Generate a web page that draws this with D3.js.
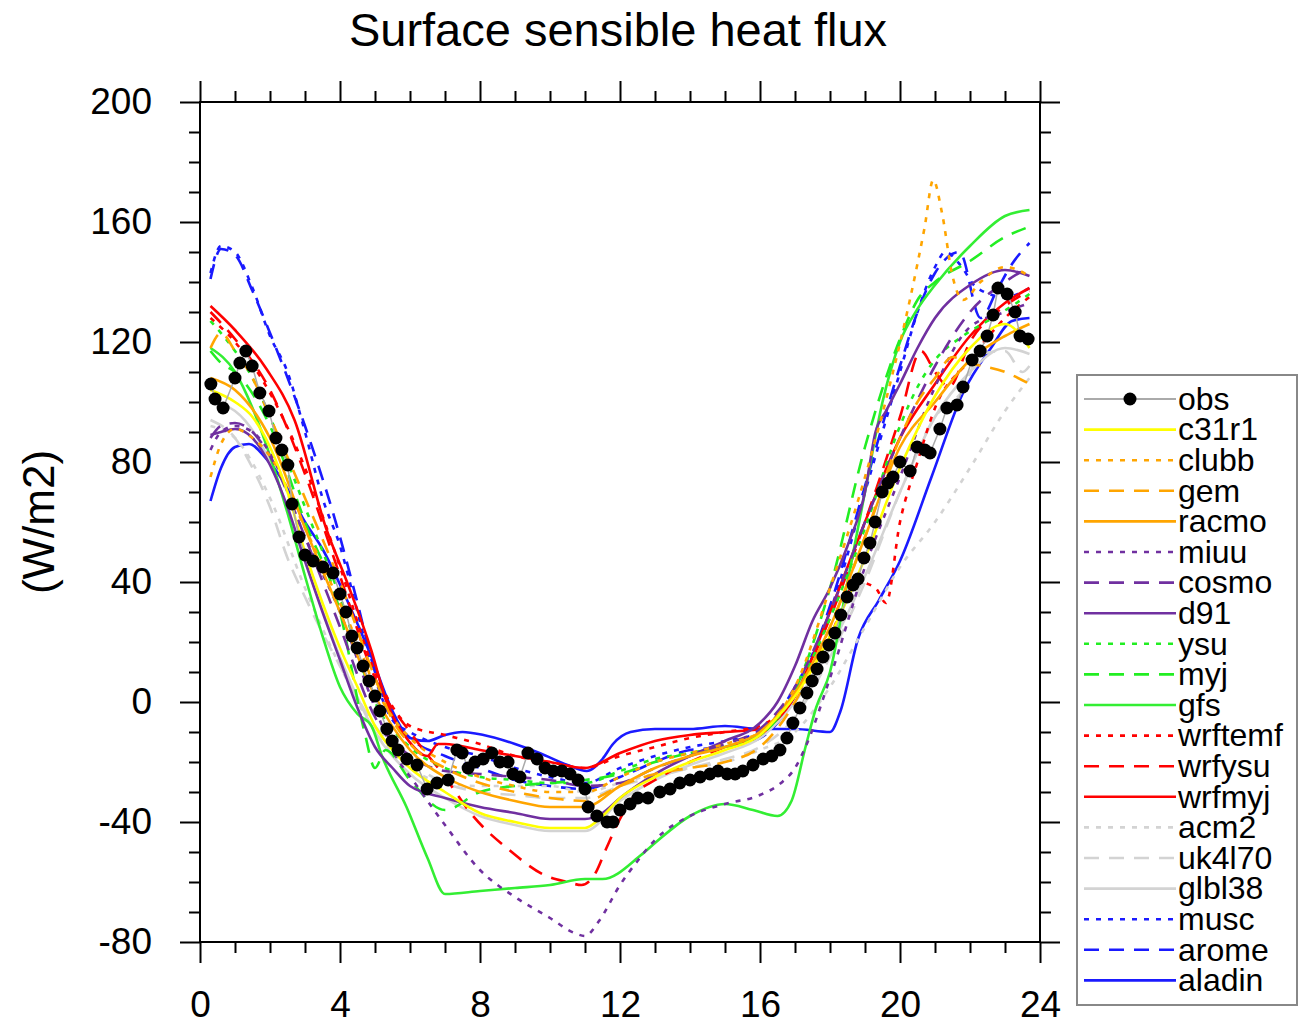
<!DOCTYPE html>
<html>
<head>
<meta charset="utf-8">
<title>Surface sensible heat flux</title>
<script src="https://cdn.jsdelivr.net/npm/d3@7"></script>
<style>
  body { margin: 0; background: #fff; }
  svg { font-family: "Liberation Sans", Arial, sans-serif; }
</style>
</head>
<body>
<svg width="1298" height="1026"></svg>
<script>

// axis ticks
const hourTicks = [0, 4, 8, 12, 16, 20, 24];
const fluxTicks = [-80, -40, 0, 40, 80, 120, 160, 200];

// observations (hour, W/m2)
const obsT = [0.31,0.43,0.66,1.0,1.14,1.31,1.49,1.71,1.97,2.17,2.34,2.51,2.63,2.83,3.0,3.23,3.51,3.8,4.0,4.17,
  4.34,4.49,4.66,4.83,5.0,5.14,5.34,5.49,5.66,5.91,6.2,6.49,6.77,7.09,7.34,7.49,7.66,7.86,8.09,8.34,
  8.57,8.8,8.94,9.14,9.37,9.63,9.86,10.09,10.34,10.57,10.8,11.0,11.09,11.34,11.63,11.8,12.0,12.29,12.51,12.8,
  13.14,13.43,13.71,14.0,14.29,14.57,14.8,15.06,15.29,15.51,15.8,16.09,16.34,16.57,16.77,16.94,17.14,17.34,17.49,17.63,
  17.8,17.97,18.14,18.31,18.49,18.66,18.8,18.97,19.14,19.29,19.49,19.66,19.8,20.0,20.29,20.49,20.71,20.86,21.14,21.34,
  21.63,21.8,22.06,22.29,22.49,22.66,22.8,23.06,23.29,23.43,23.66];
const obsV = [106,101,98,108,113,117,112,103,97,88,84,79,66,55,49,47,45,43,36,30,
  22,18,12,7,2,-3,-9,-13,-16,-19,-21,-29,-27,-26,-16,-17,-22,-20,-19,-17,
  -20,-20,-24,-25,-17,-19,-22,-23,-23,-24,-26,-29,-35,-38,-40,-40,-36,-34,-32,-32,
  -30,-29,-27,-26,-25,-24,-23,-24,-24,-23,-21,-19,-18,-16,-12,-7,-2,3,7,11,
  15,19,23,29,35,39,41,48,53,60,70,73,75,80,77,85,84,83,91,98,
  99,105,114,117,122,129,138,136,130,122,121];

// model runs, [hour, W/m2]
const c31r1 = [[0.3,104],[1,100],[1.5,95],[2,85],[2.5,70],[3,50],[3.5,33],[4,18],[4.5,5],[5,-8],[5.5,-16],[6,-22],[7,-30],[8,-37],[9,-40],[10,-42],[11,-42],[11.5,-38],[12,-32],[13,-25],[14,-20],[15,-16],[16,-11],[16.5,-5],[17,2],[18,22],[19,48],[20,78],[21,102],[22,118],[23,126],[23.7,118]];
const clubb = [[0.3,75],[0.6,86],[1,91],[1.5,88],[2,82],[3,58],[4,33],[4.5,20],[5,5],[5.5,-5],[6,-12],[7,-20],[8,-25],[9,-28],[10,-30],[11,-30],[12,-25],[13,-20],[14,-17],[15,-14],[16,-10],[17,5],[18,38],[19,75],[19.8,110],[20.3,135],[20.7,158],[20.95,174],[21.2,163],[21.5,142],[21.8,134],[22.3,140],[23,145],[23.7,142]];
const gem = [[0.3,118],[0.6,123],[1,117],[1.5,108],[2,95],[3,68],[4,40],[5,8],[5.5,-6],[6,-14],[7,-22],[8,-27],[9,-30],[10,-32],[11,-33],[12,-28],[13,-24],[14,-22],[15,-20],[16,-15],[17,0],[18,25],[19,55],[20,88],[20.5,100],[21,108],[21.5,115],[22,113],[23,110],[23.7,106]];
const racmo = [[0.3,108],[1,104],[2,88],[3,58],[4,30],[5,2],[6,-16],[7,-25],[8,-30],[9,-33],[10,-35],[11,-35],[12,-28],[13,-22],[14,-18],[15,-15],[16,-10],[17,3],[18,25],[19,55],[20,85],[21,100],[22,114],[23,122],[23.7,126]];
const miuu = [[0.3,84],[0.6,90],[1,92],[1.5,90],[2,83],[3,55],[4,30],[5,-2],[5.5,-16],[6.2,-28],[7,-41],[8,-56],[9,-65],[10,-72],[10.7,-77],[11,-78],[11.4,-73],[12,-61],[12.5,-53],[13,-46],[14,-38],[15,-34],[16,-31],[16.6,-27],[17,-22],[17.3,-15],[18,8],[19,45],[20,75],[21,105],[22,125],[23,130],[23.7,133]];
const cosmo = [[0.3,88],[0.6,92],[1,93],[1.5,90],[2,82],[3,55],[4,25],[5,-5],[6,-18],[7,-23],[8,-24],[9,-25],[10,-26],[11,-28],[12,-27],[13,-22],[14,-18],[15,-14],[16,-9],[17,5],[18,30],[19,60],[20,88],[21,112],[22,130],[23,140],[23.7,145]];
const d91 = [[0.3,89],[0.6,90],[1,91],[1.5,88],[2,79],[2.5,65],[3,47],[3.5,30],[4,14],[4.5,-2],[5,-15],[5.5,-22],[6,-28],[7,-32],[8,-35],[9,-37],[10,-39],[11,-39],[11.5,-37],[12,-32],[13,-24],[14,-18],[15,-13],[16,-7],[16.5,0],[17,12],[17.5,27],[18,38],[18.5,52],[19,70],[19.3,90],[19.6,97],[20,106],[20.5,118],[21,128],[22,139],[23,144],[23.7,142]];
const ysu = [[0.3,127],[1,117],[1.5,108],[2,95],[3,65],[4,35],[5,0],[6,-15],[7,-22],[8,-25],[9,-26],[10,-27],[11,-27],[12,-23],[13,-19],[14,-17],[15,-15],[16,-11],[17,3],[18,28],[19,58],[20,92],[20.5,105],[21,114],[21.8,122],[22.5,127],[23.2,132],[23.7,136]];
const myj = [[0.3,117],[0.6,113],[1,110],[2,92],[3,60],[4,30],[4.7,-10],[5,-22],[5.3,-16],[6,-26],[7,-36],[8,-30],[9,-28],[10,-27],[11,-26],[12,-24],[13,-20],[14,-17],[15,-15],[16,-11],[17,4],[18,38],[19,85],[20,121],[20.5,134],[21,140],[22,147],[23,155],[23.6,158]];
const gfs = [[0.3,118],[1,110],[1.5,98],[2,82],[2.5,63],[3,42],[3.5,22],[4,5],[4.5,-4],[4.9,-8],[5.2,-18],[5.9,-35],[6.5,-52],[7,-64],[8,-63],[9,-62],[10,-61],[11,-59],[11.5,-59],[12.6,-51],[13,-47],[14,-38],[15,-34],[15.8,-36],[16.5,-38],[16.9,-33],[17.3,-15],[17.6,-2],[18,10],[18.5,40],[19,70],[19.5,100],[20,120],[20.5,131],[21,139],[22,152],[23,162],[23.7,164]];
const wrftemf = [[0.3,128],[1,120],[2,103],[3,78],[4,45],[5,10],[6,-8],[7,-11],[8,-14],[9,-18],[10,-20],[11,-22],[12,-18],[13,-15],[14,-12],[15,-10],[16,-8],[17,2],[18,22],[18.8,40],[19.3,38],[19.6,33],[20,60],[20.5,80],[21,98],[22,114],[23,128],[23.7,135]];
const wrfysu = [[0.3,130],[1,121],[2,104],[3,76],[4,42],[5,8],[6,-10],[7,-25],[7.8,-38],[8.8,-49],[9.9,-58],[10.5,-60],[10.9,-61],[11.3,-57],[11.6,-49],[12,-39],[12.5,-30],[13,-26],[14,-20],[15,-15],[16,-11],[17,3],[18,28],[19,60],[20,95],[20.6,117],[21,110],[21.4,105],[22,120],[23,132],[23.7,137]];
const wrfmyj = [[0.3,132],[1,124],[1.9,111],[2.7,94],[3.6,58],[4.2,40],[4.9,17],[5.3,1],[5.9,-12],[6.5,-18],[6.8,-14],[7,-14],[8,-16],[9,-18],[10,-20],[11,-22],[12,-17],[13,-13],[14,-11],[15,-10],[16,-9],[17,2],[18,30],[19,60],[20,88],[21,106],[22,122],[23,133],[23.7,138]];
const acm2 = [[0.3,92],[1,88],[2,68],[3,38],[4,12],[5,-10],[6,-22],[7,-27],[8,-28],[9,-28],[10,-28],[11,-30],[12,-27],[13,-24],[14,-22],[15,-20],[16,-16],[17,-10],[18,5],[19,25],[20,45],[21,60],[22,78],[23,97],[23.7,108]];
const uk4l70 = [[0.3,94],[1,88],[1.5,78],[2,65],[2.5,48],[3,35],[4,12],[5,-8],[6,-20],[7,-27],[8,-30],[9,-31],[10,-32],[11,-32],[12,-28],[13,-25],[14,-22],[15,-19],[16,-15],[17,-5],[18,15],[19,40],[20,70],[21,95],[21.8,104],[22.3,116],[23,117],[23.5,110],[23.7,112]];
const glbl38 = [[0.3,100],[1,97],[2,80],[3,47],[4,15],[5,-10],[6,-24],[7,-32],[8,-38],[9,-41],[10,-43],[11,-43],[12,-33],[13,-26],[14,-21],[15,-17],[16,-12],[17,0],[18,18],[19,42],[20,70],[21,95],[22,110],[23,118],[23.7,116]];
const musc = [[0.3,143],[0.6,152],[1,150],[1.5,138],[2,122],[2.5,110],[3,90],[3.5,68],[4,52],[4.5,30],[5,8],[5.5,-6],[6,-10],[7,-15],[8,-18],[9,-22],[10,-25],[11,-27],[12,-22],[13,-18],[14,-15],[15,-13],[16,-10],[17,5],[18,30],[19,70],[20,110],[20.5,130],[21,145],[21.3,150],[21.7,146],[22.2,138],[23,135],[23.7,138]];
const arome = [[0.3,141],[0.6,151],[1,149],[1.5,137],[2,123],[3,92],[4,55],[4.5,33],[5,10],[5.5,-5],[6,-12],[7,-18],[8,-22],[9,-26],[10,-28],[11,-29],[12,-25],[13,-20],[14,-16],[15,-15],[16,-12],[17,2],[18,32],[19,72],[20,112],[20.5,130],[21,143],[21.7,150],[22.3,128],[22.8,138],[23.2,146],[23.7,153]];
const aladin = [[0.3,67],[0.6,78],[1,85],[1.4,86],[1.9,81],[2.3,75],[3,60],[3.5,51],[4.2,34],[4.9,15],[5.5,-3],[6,-12],[6.5,-13],[7,-11],[7.5,-10],[8.1,-11],[9,-14],[9.7,-17],[10.5,-21],[11.05,-23],[11.5,-19],[11.8,-14],[12.3,-10],[13,-9],[14,-9],[15,-8],[16,-9],[17,-9],[18,-10],[18.3,-3],[18.8,21],[19.4,34],[20,47],[20.9,75],[21.8,103],[22.6,118],[23.2,127],[23.7,128]];

// styles for each run
const DOT = '5,7', DASH = '15,10';
const runs = [
  { name: 'c31r1',   pts: c31r1,   color: '#ffff00', dash: null },
  { name: 'clubb',   pts: clubb,   color: '#ffa500', dash: DOT },
  { name: 'gem',     pts: gem,     color: '#ffa500', dash: DASH },
  { name: 'racmo',   pts: racmo,   color: '#ffa500', dash: null },
  { name: 'miuu',    pts: miuu,    color: '#7030a0', dash: DOT },
  { name: 'cosmo',   pts: cosmo,   color: '#7030a0', dash: DASH },
  { name: 'd91',     pts: d91,     color: '#7030a0', dash: null },
  { name: 'ysu',     pts: ysu,     color: '#22ee22', dash: DOT },
  { name: 'myj',     pts: myj,     color: '#22ee22', dash: DASH },
  { name: 'gfs',     pts: gfs,     color: '#33ee33', dash: null },
  { name: 'wrftemf', pts: wrftemf, color: '#ff0000', dash: DOT },
  { name: 'wrfysu',  pts: wrfysu,  color: '#ff0000', dash: DASH },
  { name: 'wrfmyj',  pts: wrfmyj,  color: '#ff0000', dash: null },
  { name: 'acm2',    pts: acm2,    color: '#d3d3d3', dash: DOT },
  { name: 'uk4l70',  pts: uk4l70,  color: '#d3d3d3', dash: DASH },
  { name: 'glbl38',  pts: glbl38,  color: '#d3d3d3', dash: null },
  { name: 'musc',    pts: musc,    color: '#1a1aff', dash: DOT },
  { name: 'arome',   pts: arome,   color: '#1a1aff', dash: DASH },
  { name: 'aladin',  pts: aladin,  color: '#1a1aff', dash: null }
];

const L = 200, R = 1040, T = 102, B = 942;
const svg = d3.select('svg');

const x = d3.scaleLinear().domain([0, 24]).range([L, R]);
const y = d3.scaleLinear().domain([-80, 200]).range([B, T]);

svg.append('defs').append('clipPath').attr('id', 'plot')
  .append('rect').attr('x', L).attr('y', T).attr('width', R - L).attr('height', B - T);

let line = d3.line().x(d => x(d[0])).y(d => y(d[1])).curve(d3.curveMonotoneX);

let g = svg.append('g').attr('clip-path', 'url(#plot)');

// last run in the legend drawn first
runs.slice().reverse().forEach(r => {
  g.append('path')
    .datum(r.pts)
    .attr('d', line)
    .attr('fill', 'none')
    .attr('stroke', r.color)
    .attr('stroke-width', 2.6)
    .attr('stroke-dasharray', r.dash);
});

// obs on top
let obs = obsT.map((t, i) => [t, obsV[i]]);
g.append('path')
  .datum(obs)
  .attr('d', d3.line().x(d => x(d[0])).y(d => y(d[1])))
  .attr('fill', 'none')
  .attr('stroke', '#aaa')
  .attr('stroke-width', 1.5);
g.selectAll('circle.obs').data(obs).enter().append('circle')
  .attr('class', 'obs')
  .attr('cx', d => x(d[0]))
  .attr('cy', d => y(d[1]))
  .attr('r', 6.5)
  .attr('fill', '#000');

// frame + ticks (outward on all sides)
let styleAxis = (a, labels) => {
  a.select('.domain').remove();
  a.selectAll('line').attr('stroke', '#000').attr('stroke-width', 2);
  if (!labels) a.selectAll('text').remove();
  else a.selectAll('text').attr('font-size', 37).attr('fill', '#000');
};

let plain = d => String(d);   // ascii hyphen for negatives
let minorX = d3.range(0, 25, 1).filter(v => v % 4 !== 0);
let minorY = d3.range(-80, 201, 10).filter(v => v % 40 !== 0);

svg.append('g').attr('transform', `translate(0,${B})`)
  .call(d3.axisBottom(x).tickValues(hourTicks).tickSize(21).tickPadding(28).tickFormat(plain))
  .call(a => styleAxis(a, true));
svg.append('g').attr('transform', `translate(0,${B})`)
  .call(d3.axisBottom(x).tickValues(minorX).tickSize(11))
  .call(a => styleAxis(a, false));
svg.append('g').attr('transform', `translate(0,${T})`)
  .call(d3.axisTop(x).tickValues(hourTicks).tickSize(21))
  .call(a => styleAxis(a, false));
svg.append('g').attr('transform', `translate(0,${T})`)
  .call(d3.axisTop(x).tickValues(minorX).tickSize(11))
  .call(a => styleAxis(a, false));

svg.append('g').attr('transform', `translate(${L},0)`)
  .call(d3.axisLeft(y).tickValues(fluxTicks).tickSize(20).tickPadding(28).tickFormat(plain))
  .call(a => styleAxis(a, true));
svg.append('g').attr('transform', `translate(${L},0)`)
  .call(d3.axisLeft(y).tickValues(minorY).tickSize(11))
  .call(a => styleAxis(a, false));
svg.append('g').attr('transform', `translate(${R},0)`)
  .call(d3.axisRight(y).tickValues(fluxTicks).tickSize(20))
  .call(a => styleAxis(a, false));
svg.append('g').attr('transform', `translate(${R},0)`)
  .call(d3.axisRight(y).tickValues(minorY).tickSize(11))
  .call(a => styleAxis(a, false));

svg.append('rect')
  .attr('x', L).attr('y', T).attr('width', R - L).attr('height', B - T)
  .attr('fill', 'none').attr('stroke', '#000').attr('stroke-width', 2);

// titles
svg.append('text')
  .attr('x', 618).attr('y', 46)
  .attr('text-anchor', 'middle')
  .attr('font-size', 47)
  .text('Surface sensible heat flux');

svg.append('text')
  .attr('transform', 'translate(54,522) rotate(-90)')
  .attr('text-anchor', 'middle')
  .attr('font-size', 44)
  .text('(W/m2)');

// legend
let lg = svg.append('g');
lg.append('rect')
  .attr('x', 1077).attr('y', 375).attr('width', 220).attr('height', 630)
  .attr('fill', '#fff').attr('stroke', '#888').attr('stroke-width', 2);

let rowY = i => 399 + i * 30.6;
let lx0 = 1084, lx1 = 1176;

lg.append('line').attr('x1', lx0).attr('x2', lx1).attr('y1', rowY(0)).attr('y2', rowY(0))
  .attr('stroke', '#aaa').attr('stroke-width', 2);
lg.append('circle').attr('cx', (lx0 + lx1) / 2).attr('cy', rowY(0)).attr('r', 6.5).attr('fill', '#000');
lg.append('text').attr('x', 1178).attr('y', rowY(0)).attr('dy', '0.34em')
  .attr('font-size', 32).text('obs');

runs.forEach((r, i) => {
  let yy = rowY(i + 1);
  lg.append('line').attr('x1', lx0).attr('x2', lx1).attr('y1', yy).attr('y2', yy)
    .attr('stroke', r.color).attr('stroke-width', 2.6).attr('stroke-dasharray', r.dash);
  lg.append('text').attr('x', 1178).attr('y', yy).attr('dy', '0.34em')
    .attr('font-size', 32).text(r.name);
});

</script>
</body>
</html>
